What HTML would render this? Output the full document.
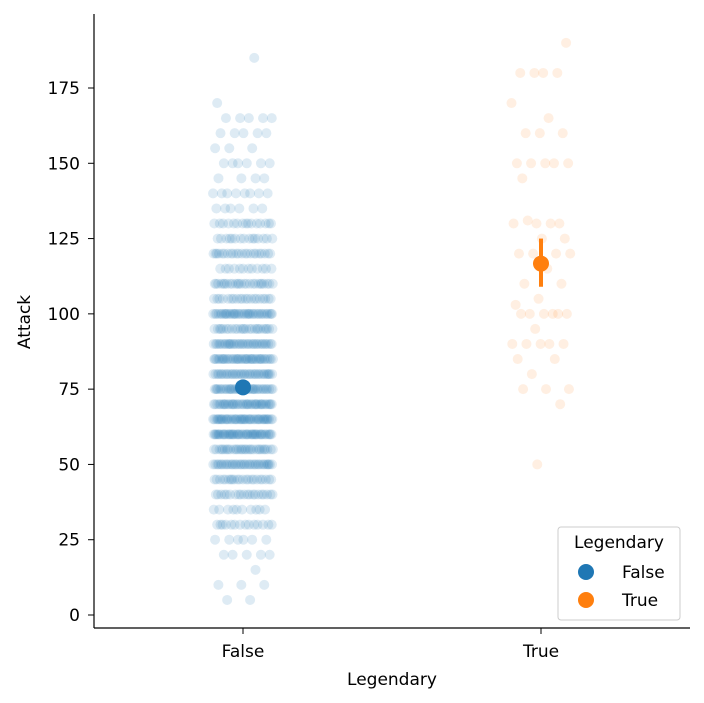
<!DOCTYPE html>
<html><head><meta charset="utf-8"><style>
body{margin:0;background:#fff}
svg{display:block;font-family:"DejaVu Sans","Liberation Sans",sans-serif}
</style></head><body>
<svg id="chart" width="704" height="703" viewBox="0 0 704 703">
<g id="pts"></g>
<g id="axes"></g>
<g id="means"></g>
<g>
<rect x="558" y="527" width="122" height="93" rx="3" fill="#fff" fill-opacity="0.8" stroke="#ccc"/>
<text x="619" y="548" font-size="17" text-anchor="middle">Legendary</text>
<circle cx="586" cy="572" r="8" fill="#1f77b4"/>
<text x="622" y="578" font-size="17">False</text>
<circle cx="586" cy="600" r="8" fill="#ff7f0e"/>
<text x="622" y="606" font-size="17">True</text>
</g>
<text x="392" y="685" font-size="17" text-anchor="middle">Legendary</text>
<text transform="translate(30,322) rotate(-90)" font-size="17" text-anchor="middle">Attack</text>
</svg>
<script>
const categories = ["False", "True"];
const falseBinValues = [5,10,15,20,25,30,35,40,45,50,55,60,65,70,75,80,85,90,95,100,105,110,115,120,125,130,135,140,145,150,155,160,165,170,185];
const falseBinCounts = [2,3,1,5,6,14,10,20,22,35,30,45,45,40,38,35,40,35,25,38,20,25,12,22,15,15,6,8,4,6,3,5,5,1,1];
const trueValues = [190,180,180,180,180,170,165,160,160,160,150,150,150,150,150,145,130,130,130,130,131,125,125,120,120,120,120,115,110,110,105,103,100,100,100,100,100,100,95,90,90,90,90,90,85,85,80,75,75,75,70,50];
const meanValues = [75.6, 116.7];
const ciLow = [74.0, 109];
const ciHigh = [77.5, 125];
const yTicks = [0,25,50,75,100,125,150,175];
const colors = ["#1f77b4","#ff7f0e"];

const NS = "http://www.w3.org/2000/svg";
const yScale = v => 615 - v * (615 - 88) / 175;
const xScale = i => 243 + i * (541 - 243);
function mk(tag, attrs, parent){const e=document.createElementNS(NS,tag);for(const k in attrs)e.setAttribute(k,attrs[k]);parent.appendChild(e);return e;}

const falseValues = [];
falseBinValues.forEach((v,i)=>{for(let k=0;k<falseBinCounts[i];k++)falseValues.push(v);});
const pts = document.getElementById('pts');
[falseValues, trueValues].forEach((vals, c)=>{
  vals.forEach((v,i)=>{
    const j = (((i+1)*0.6180339887 + c*0.3) % 1 - 0.5) * 2 * 30;
    const e = mk('circle',{cx:xScale(c)+j, cy:yScale(v), r:5, fill:colors[c], 'fill-opacity':c?0.12:0.15},pts);
    
    
  });
});

const ax = document.getElementById('axes');
let e = mk('line',{x1:94,y1:14,x2:94,y2:628,stroke:'#000','stroke-width':1.2},ax);


e = mk('line',{x1:94,y1:628,x2:690,y2:628,stroke:'#000','stroke-width':1.2},ax);


yTicks.forEach(t=>{
  const y=yScale(t);
  mk('line',{x1:88,y1:y,x2:94,y2:y,stroke:'#000'},ax);
  const tx = mk('text',{x:80,y:y+6,'font-size':17,'text-anchor':'end'},ax);
  tx.textContent=t;
  
  
});
categories.forEach((c,i)=>{
  const x=xScale(i);
  mk('line',{x1:x,y1:628,x2:x,y2:634,stroke:'#000'},ax);
  const tx = mk('text',{x:x,y:657,'font-size':17,'text-anchor':'middle'},ax);
  tx.textContent=c;
  
  
});

const mg = document.getElementById('means');
categories.forEach((c,i)=>{
  const x=xScale(i);
  const l = mk('line',{x1:x,y1:yScale(ciLow[i]),x2:x,y2:yScale(ciHigh[i]),stroke:colors[i],'stroke-width':4},mg);
  
  
  const m = mk('circle',{cx:x,cy:yScale(meanValues[i]),r:8,fill:colors[i]},mg);
  
  
});
</script>
</body></html>
